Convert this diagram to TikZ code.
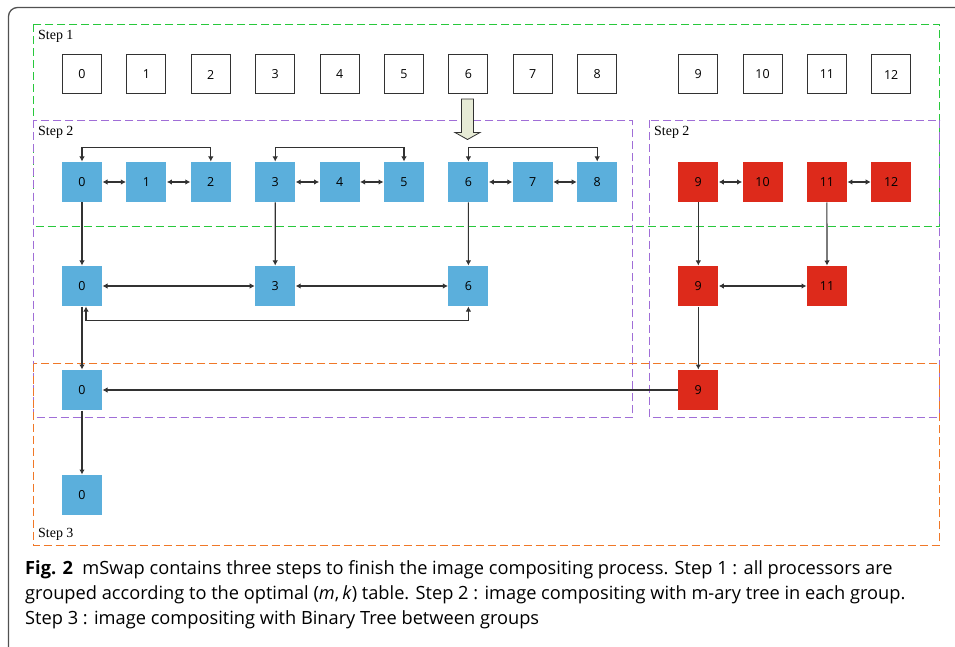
\documentclass[tikz,border=0pt]{standalone}
\usepackage{fontspec}
\setmainfont{Liberation Serif}
\setsansfont{Open Sans}
\usetikzlibrary{arrows.meta}
\definecolor{procblue}{RGB}{91,175,220}
\definecolor{procred}{RGB}{221,42,27}
\definecolor{grpgreen}{RGB}{40,200,60}
\definecolor{grppurple}{RGB}{160,110,215}
\definecolor{grporange}{RGB}{240,120,40}
\definecolor{edgegray}{RGB}{50,50,50}
\definecolor{arrowfill}{RGB}{231,235,214}
\tikzstyle{proc} = [rectangle, draw=edgegray, line width=1bp, 
    minimum size=39bp, inner sep=0pt, font=\sffamily\fontsize{12.5}{12.5}\selectfont]
\tikzstyle{blueproc} = [proc, draw=none, fill=procblue, minimum size=40bp]
\tikzstyle{redproc} = [proc, draw=none, fill=procred, minimum size=40bp]
\tikzstyle{groupbox} = [dash pattern=on 8bp off 4bp, line width=1.5bp]
\tikzstyle{steplabel} = [anchor=base west, inner sep=0pt, 
    font=\fontsize{14}{14}\selectfont]
\tikzstyle{captext} = [anchor=base west, inner sep=0pt, 
    font=\sffamily\fontsize{18.3}{18.3}\selectfont]
\tikzstyle{line} = [draw=edgegray, line width=1.1bp, -{Latex[length=5bp,width=5.5bp]}]
\tikzstyle{dline} = [line, {Latex[length=5bp,width=5.5bp]}-{Latex[length=5bp,width=5.5bp]}]

\begin{document}
\begin{tikzpicture}[x=1bp,y=-1bp]
    \useasboundingbox (0,0) rectangle (955,647);
    % Frame and groups
    \draw[edgegray!85, line width=1.3bp, rounded corners=9bp] (8.5,647) -- (8.5,7.5) -- (955,7.5);
    \draw[groupbox, draw=grpgreen] (33.5,24.5) rectangle (939.5,226.5);
    \draw[groupbox, draw=grppurple] (33.5,120.5) rectangle (632.5,417.5);
    \draw[groupbox, draw=grppurple] (649.5,120.5) rectangle (939.5,417.5);
    \draw[groupbox, draw=grporange] (33.5,363.5) rectangle (939.5,545.5);
    \node[steplabel] (s1) at (38,40) {Step 1};
    \node[steplabel] (s2) at (38,136) {Step 2};
    \node[steplabel] (s2r) at (654,136) {Step 2};
    \node[steplabel] (s3) at (38,537) {Step 3};
    % Place nodes
    \foreach \i in {0,...,8}
        \node[proc] (p\i) at ({82+64.4*\i},74.5) {\i};
    \foreach \i in {9,...,12}
        \node[proc] (p\i) at ({698.3+64.3*(\i-9)},74.5) {\i};
    \foreach \i in {0,...,8}
        \node[blueproc] (a\i) at ({82+64.4*\i},182) {\i};
    \foreach \i in {9,...,12}
        \node[redproc] (a\i) at ({698.3+64.3*(\i-9)},182) {\i};
    \node[blueproc] (b0) at (82,286) {0};
    \node[blueproc] (b3) at (275.2,286) {3};
    \node[blueproc] (b6) at (468.4,286) {6};
    \node[redproc] (b9) at (698.3,286) {9};
    \node[redproc] (b11) at (827,286) {11};
    \node[blueproc] (c0) at (82,390) {0};
    \node[redproc] (c9) at (698.3,390) {9};
    \node[blueproc] (d0) at (82,495) {0};
    % Big hollow arrow
    \draw[edgegray, line width=0.8bp, fill=arrowfill] (461.5,99) -- (473.5,99) -- (473.5,132.5)
        -- (480,132.5) -- (467.5,139.5) -- (455,132.5) -- (461.5,132.5) -- cycle;
    % Draw edges
    \foreach \i/\j in {0/1,1/2,3/4,4/5,6/7,7/8,9/10,11/12}
        \path[dline] (a\i) -- (a\j);
    \foreach \i/\j in {0/2,3/5,6/8}
        \path[dline] (a\i.north) -- ++(0,-14) -| (a\j.north);
    \foreach \i in {0,3,6,9,11}
        \path[line] (a\i) -- (b\i);
    \path[dline] (b0) -- (b3);
    \path[dline] (b3) -- (b6);
    \path[dline] (b9) -- (b11);
    \path[dline] ([xshift=4bp]b0.south) -- ++(0,14) -| (b6.south);
    \path[line] (b0) -- (c0);
    \path[line] (b9) -- (c9);
    \path[line] (c9) -- (c0);
    \path[line] (c0) -- (d0);
    % Caption
    \node[captext] (cap1) at (25,574) {\textbf{Fig. 2}\ \ mSwap contains three steps to finish the image compositing process. Step 1 : all processors are};
    \node[captext] (cap2) at (25,599) {grouped according to the optimal (\textit{m},\,\textit{k}) table. Step 2 : image compositing with m-ary tree in each group.};
    \node[captext] (cap3) at (25,624) {Step 3 : image compositing with Binary Tree between groups};
\end{tikzpicture}
\end{document}
